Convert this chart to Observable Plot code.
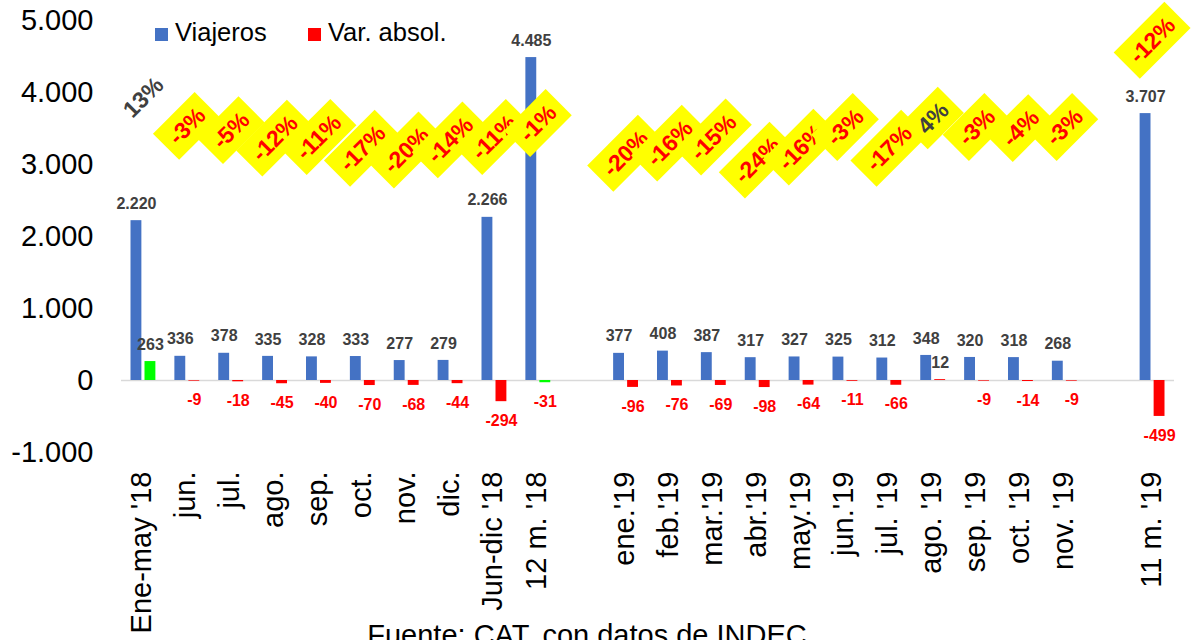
<!DOCTYPE html>
<html><head><meta charset="utf-8">
<script src="https://cdn.jsdelivr.net/npm/d3@7"></script>
<script src="https://cdn.jsdelivr.net/npm/@observablehq/plot@0.6"></script>
<style>
body{margin:0;background:#fff;font-family:"Liberation Sans",Arial,sans-serif;}
#wrap{position:relative;width:1193px;height:640px;overflow:hidden;}
.leg{position:absolute;font-size:25.5px;color:#000;line-height:1;white-space:nowrap;}
.sw{position:absolute;width:13px;height:13px;}
</style></head><body><div id="wrap"></div>
<script>
const categories = ["Ene-may '18","jun.","jul.","ago.","sep.","oct.","nov.","dic.","Jun-dic '18","12 m. '18",
  "ene.'19","feb.'19","mar.'19","abr.'19","may.'19","jun.'19","jul. '19","ago. '19","sep. '19","oct. '19","nov. '19",
  "11 m. '19"];
const viajeros = [2220,336,378,335,328,333,277,279,2266,4485,377,408,387,317,327,325,312,348,320,318,268,3707];
const varAbsol = [263,-9,-18,-45,-40,-70,-68,-44,-294,-31,-96,-76,-69,-98,-64,-11,-66,12,-9,-14,-9,-499];
const varPct = ["13%","-3%","-5%","-12%","-11%","-17%","-20%","-14%","-11%","-1%",
  "-20%","-16%","-15%","-24%","-16%","-3%","-17%","4%","-3%","-4%","-3%","-12%"];
// height (in y units) at which each percentage label sits in the picture
const pctLabelAt = [3930,3530,3470,3360,3375,3220,3195,3335,3375,3570,
  3150,3290,3375,3055,3235,3515,3220,3640,3515,3500,3515,4720];
const greenBars = ["Ene-may '18","12 m. '18"];
const yTicks = [-1000,0,1000,2000,3000,4000,5000];
const legendItems = ["Viajeros","Var. absol."];
const caption = "Fuente: CAT, con datos de INDEC";

const xDomain = [...categories.slice(0,10), "", ...categories.slice(10,21), " ", categories[21]];
const rows = categories.map((c,i)=>({cat:c, viajeros:viajeros[i], var:varAbsol[i], pct:varPct[i], pctY:pctLabelAt[i]}));
const loc = d3.formatLocale({decimal:",", thousands:".", grouping:[3], currency:["","€"], minus:"-"});
const fmt = loc.format(",");

const BLUE="#4472C4", RED="#FF0000", GREEN="#00FF00", GREY="#404040";

const chart = Plot.plot({
  width:1193, height:640,
  marginLeft:121, marginRight:19, marginTop:20, marginBottom:188,
  style:{fontFamily:"Liberation Sans, Arial, sans-serif", background:"#fff"},
  x:{type:"band", domain:xDomain, padding:0, round:false, axis:null},
  y:{domain:[-1000,5000]},
  marks:[
    Plot.axisY({ticks:yTicks, tickFormat:fmt, tickSize:0, tickPadding:28, fontSize:29, fill:"#000"}),
    Plot.ruleY([0], {stroke:"#D9D9D9", strokeWidth:1.5}),
    Plot.barY(rows, {x:"cat", y:"viajeros", fill:BLUE, insetLeft:9.5, insetRight:23.5}),
    Plot.barY(rows, {x:"cat", y:"var", fill:d=>greenBars.includes(d.cat)?GREEN:RED, insetLeft:23.5, insetRight:9.5}),
    Plot.text(rows, {x:"cat", y:"viajeros", text:d=>fmt(d.viajeros), dx:-7, dy:-17, fontSize:16, fontWeight:"bold", fill:GREY}),
    Plot.text(rows.filter(d=>d.var>0), {x:"cat", y:"var", text:d=>fmt(d.var), dx:7, dy:-17, fontSize:16, fontWeight:"bold", fill:GREY}),
    Plot.text(rows.filter(d=>d.var<0), {x:"cat", y:"var", text:d=>fmt(d.var), dx:7, dy:19, fontSize:16, fontWeight:"bold", fill:RED}),
    Plot.text(rows, {x:"cat", y:"pctY", text:"pct", rotate:-45, fontSize:23, fontWeight:"bold",
      fill:d=>d.pct.startsWith("-")?RED:GREY, ariaDescription:"pct"}),
    Plot.text(categories, {x:d=>d, frameAnchor:"bottom", rotate:-90, textAnchor:"end", dx:8, dy:19, fontSize:29, fill:"#000"}),
    Plot.text([caption], {frameAnchor:"bottom", lineAnchor:"top", dx:-61, dy:172, fontSize:29, fill:"#000"})
  ]
});
const wrap = document.getElementById("wrap");
wrap.append(chart);

// yellow boxes behind percentage labels (all except the first one)
const g = chart.querySelector('g[aria-description="pct"]');
if (g) {
  Array.from(g.querySelectorAll("text")).forEach((t,i)=>{
    if (i === 0) return;
    const bb = t.getBBox();
    const r = document.createElementNS("http://www.w3.org/2000/svg","rect");
    r.setAttribute("x", bb.x-9); r.setAttribute("y", bb.y-5.5);
    r.setAttribute("width", bb.width+18); r.setAttribute("height", bb.height+11);
    r.setAttribute("transform", t.getAttribute("transform"));
    r.setAttribute("fill", "#FFFF00"); r.setAttribute("stroke","none");
    g.insertBefore(r, t);
  });
}

// legend
const legPos = [{sw:155, tx:175, color:BLUE},{sw:308, tx:328, color:RED}];
legendItems.forEach((name,i)=>{
  const s = document.createElement("div"); s.className="sw";
  s.style.left=legPos[i].sw+"px"; s.style.top="28px"; s.style.background=legPos[i].color;
  const t = document.createElement("div"); t.className="leg";
  t.style.left=legPos[i].tx+"px"; t.style.top="20px"; t.textContent=name;
  wrap.append(s,t);
});
</script></body></html>
